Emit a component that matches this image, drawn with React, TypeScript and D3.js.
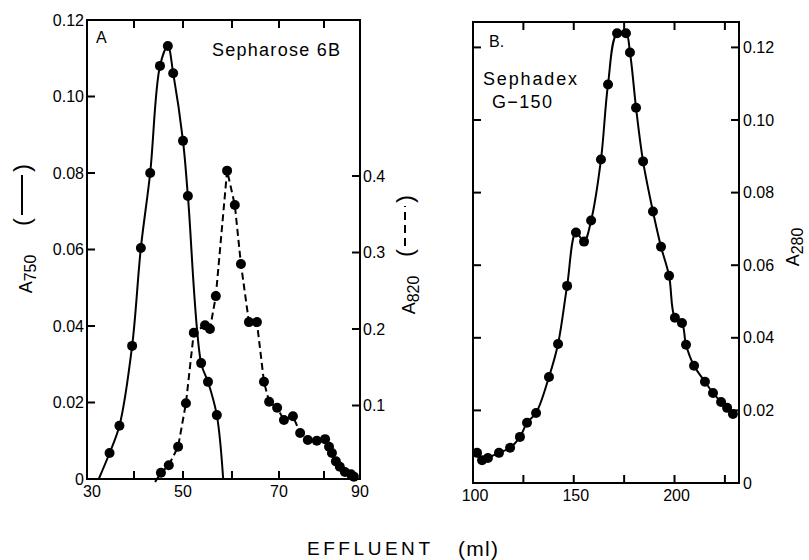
import * as d3 from "d3";

const FONT = "'Liberation Sans', Arial, sans-serif";

// --- Panel A: Sepharose 6B ---
// A750 (solid curve, left axis)
const a750Ml = [34.8, 36.9, 39.6, 41.4, 43.3, 45.3, 46.9, 48.0, 50.0, 51.0, 53.7, 55.1, 56.9];
const a750 = [0.0068, 0.0139, 0.0348, 0.0604, 0.08, 0.108, 0.1132, 0.1061, 0.0884, 0.074, 0.0303, 0.0254, 0.0167];
const a750CurveEnds = [32.5, 58.2]; // where the drawn curve meets the baseline

// A820 (dashed curve, right axis)
const a820Ml = [
  45.5, 47.1, 49.0, 50.6, 52.2, 54.5, 55.5, 56.7, 59.0, 60.6, 61.9, 63.6, 65.3, 66.8, 67.9,
  69.6, 71.1, 73.1, 74.7, 76.4, 78.4, 80.3, 81.4, 82.2, 83.3, 84.4, 85.8, 87.5, 88.3,
];
const a820 = [
  0.012, 0.022, 0.046, 0.103, 0.195, 0.205, 0.2, 0.243, 0.407, 0.362, 0.285, 0.209, 0.209, 0.131, 0.105,
  0.097, 0.081, 0.086, 0.064, 0.055, 0.054, 0.056, 0.046, 0.038, 0.027, 0.02, 0.013, 0.01, 0.007,
];
const a820CurveStart = 44.3;

// --- Panel B: Sephadex G-150, A280 ---
const a280Ml = [
  102.0, 104.5, 107.4, 112.9, 118.4, 123.3, 126.8, 131.3, 137.7, 142.2, 146.7, 151.1, 155.1, 158.6,
  163.5, 167.0, 171.5, 175.9, 177.9, 180.9, 184.4, 189.3, 193.3, 197.3, 200.2, 203.7, 205.7, 209.7,
  215.1, 219.1, 223.1, 226.1, 229.0,
];
const a280 = [
  0.0083, 0.0063, 0.0069, 0.0083, 0.0097, 0.0127, 0.0166, 0.0193, 0.0292, 0.0383, 0.0543, 0.069, 0.0665,
  0.0723, 0.0891, 0.1098, 0.1239, 0.1239, 0.1186, 0.1034, 0.0886, 0.0748, 0.0651, 0.0571, 0.0455, 0.0441,
  0.0381, 0.0323, 0.0279, 0.0248, 0.0223, 0.0207, 0.019,
];

// ticks
const xTicksA = [30, 40, 50, 60, 70, 80, 90];
const xLabelsA = [30, 50, 70, 90];
const yTicksA = [0, 0.02, 0.04, 0.06, 0.08, 0.1, 0.12];
const yTicksA820 = [0.1, 0.2, 0.3, 0.4];
const xTicksB = [100, 125, 150, 175, 200, 225];
const xLabelsB = [100, 150, 200];
const yTicksB = [0, 0.02, 0.04, 0.06, 0.08, 0.1, 0.12];

// scales (the printed x axis of panel A is not evenly spaced, so map each tick)
const xA = d3.scaleLinear().domain(xTicksA).range([87, 134, 183, 232, 279, 324, 360]);
const yA = d3.scaleLinear().domain([0, 0.12]).range([479, 20]);
const yA820 = d3.scaleLinear().domain([0, 0.6]).range([482, 23]);
const xB = d3.scaleLinear().domain([100, 232]).range([473, 739]);
const yB = d3.scaleLinear().domain([0, 0.127]).range([483, 22]);

const f2 = (v: number) => (v === 0 ? "0" : d3.format(".2f")(v));
const f1 = d3.format(".1f");

const TICK = 8;

function Bracket({ x, y, dashed }: { x: number; y: number; dashed?: boolean }) {
  return (
    <g transform={`translate(${x},${y}) rotate(-90)`} fontFamily={FONT} fontSize={24}>
      <text x={-27} y={0} textAnchor="middle">(</text>
      <text x={27} y={0} textAnchor="middle">)</text>
      <line x1={-20} x2={20} y1={-8} y2={-8} stroke="#000" strokeWidth={2}
        strokeDasharray={dashed ? "8 5" : undefined} />
    </g>
  );
}

export default function App() {
  const ptsA750: [number, number][] = [
    [a750CurveEnds[0], 0],
    ...a750Ml.map((m, i) => [m, a750[i]] as [number, number]),
    [a750CurveEnds[1], 0],
  ];
  const lineA750 = d3.line<[number, number]>()
    .x((d) => xA(d[0]))
    .y((d) => yA(d[1]))
    .curve(d3.curveCatmullRom.alpha(0.5));

  const ptsA820: [number, number][] = [
    [a820CurveStart, 0],
    ...a820Ml.map((m, i) => [m, a820[i]] as [number, number]),
  ];
  const lineA820 = d3.line<[number, number]>()
    .x((d) => xA(d[0]))
    .y((d) => yA820(d[1]));

  const ptsB: [number, number][] = a280Ml.map((m, i) => [m, a280[i]]);
  const lineB = d3.line<[number, number]>()
    .x((d) => xB(d[0]))
    .y((d) => yB(d[1]))
    .curve(d3.curveCatmullRom.alpha(0.5));

  const aL = xA(30), aR = xA(90), aT = yA(0.12), aB = yA(0);
  const bL = xB(100), bR = xB(232), bT = yB(0.127), bB = yB(0);

  return (
    <svg width={809} height={560} style={{ position: "absolute", left: 0, top: 0, background: "#fff" }}
      fontFamily={FONT}>
      {/* ---------- Panel A ---------- */}
      <rect x={aL} y={aT} width={aR - aL} height={aB - aT} fill="none" stroke="#000" strokeWidth={2} />
      {xTicksA.slice(1, -1).map((t) => (
        <g key={"xa" + t}>
          <line x1={xA(t)} x2={xA(t)} y1={aB} y2={aB - TICK} stroke="#000" strokeWidth={2} />
          <line x1={xA(t)} x2={xA(t)} y1={aT} y2={aT + TICK} stroke="#000" strokeWidth={2} />
        </g>
      ))}
      {xLabelsA.map((t) => (
        <text key={"xla" + t} x={xA(t) + (t === 30 ? 5 : 0)} y={aB + 18} fontSize={16} textAnchor="middle">
          {t}
        </text>
      ))}
      {yTicksA.map((v) => (
        <g key={"ya" + v}>
          {v > 0 && v < 0.12 && (
            <line x1={aL} x2={aL + TICK} y1={yA(v)} y2={yA(v)} stroke="#000" strokeWidth={2} />
          )}
          <text x={aL - 3} y={yA(v)} dy="0.35em" fontSize={16} textAnchor="end">{f2(v)}</text>
        </g>
      ))}
      {yTicksA820.map((v) => (
        <g key={"yr" + v}>
          <line x1={aR} x2={aR - TICK} y1={yA820(v)} y2={yA820(v)} stroke="#000" strokeWidth={2} />
          <text x={aR + 3} y={yA820(v)} dy="0.35em" fontSize={16}>{f1(v)}</text>
        </g>
      ))}

      <path d={lineA750(ptsA750) ?? ""} fill="none" stroke="#000" strokeWidth={2} />
      <path d={lineA820(ptsA820) ?? ""} fill="none" stroke="#000" strokeWidth={2} strokeDasharray="7 4" />
      {ptsA750.slice(1, -1).map((d, i) => (
        <circle key={"pa" + i} cx={xA(d[0])} cy={yA(d[1])} r={5} fill="#000" />
      ))}
      {ptsA820.slice(1).map((d, i) => (
        <circle key={"pd" + i} cx={xA(d[0])} cy={yA820(d[1])} r={5} fill="#000" />
      ))}

      <text x={96} y={43} fontSize={16}>A</text>
      <text x={212} y={56} fontSize={18} textLength={128} lengthAdjust="spacing">Sepharose 6B</text>

      {/* left axis title A750 with solid-line key */}
      <g transform="translate(32,274) rotate(-90)">
        <text textAnchor="middle" fontSize={18}>
          A<tspan fontSize={16} dy={4}>750</tspan>
        </text>
      </g>
      <Bracket x={30} y={195} />

      {/* right axis title A820 with dashed-line key */}
      <g transform="translate(415,295) rotate(-90)">
        <text textAnchor="middle" fontSize={18}>
          A<tspan fontSize={16} dy={4}>820</tspan>
        </text>
      </g>
      <Bracket x={413} y={226} dashed />

      {/* ---------- Panel B ---------- */}
      <rect x={bL} y={bT} width={bR - bL} height={bB - bT} fill="none" stroke="#000" strokeWidth={2} />
      {xTicksB.slice(1).map((t) => (
        <g key={"xb" + t}>
          <line x1={xB(t)} x2={xB(t)} y1={bB} y2={bB - TICK} stroke="#000" strokeWidth={2} />
          <line x1={xB(t)} x2={xB(t)} y1={bT} y2={bT + TICK} stroke="#000" strokeWidth={2} />
        </g>
      ))}
      {xLabelsB.map((t) => (
        <text key={"xlb" + t} x={xB(t) + 2} y={bB + 18} fontSize={16} textAnchor="middle">{t}</text>
      ))}
      {yTicksB.map((v) => (
        <g key={"yb" + v}>
          {v > 0 && (
            <>
              <line x1={bL} x2={bL + TICK} y1={yB(v)} y2={yB(v)} stroke="#000" strokeWidth={2} />
              <line x1={bR} x2={bR - TICK} y1={yB(v)} y2={yB(v)} stroke="#000" strokeWidth={2} />
            </>
          )}
          <text x={bR + 4} y={yB(v)} dy="0.35em" fontSize={16}>{f2(v)}</text>
        </g>
      ))}

      <path d={lineB(ptsB) ?? ""} fill="none" stroke="#000" strokeWidth={2} />
      {ptsB.map((d, i) => (
        <circle key={"pb" + i} cx={xB(d[0])} cy={yB(d[1])} r={5} fill="#000" />
      ))}

      <text x={489} y={47} fontSize={16}>B.</text>
      <text x={483} y={85} fontSize={18} textLength={94} lengthAdjust="spacing">Sephadex</text>
      <text x={492} y={108} fontSize={18} textLength={60} lengthAdjust="spacing">G−150</text>

      <g transform="translate(799,247) rotate(-90)">
        <text textAnchor="middle" fontSize={18}>
          A<tspan fontSize={16} dy={4}>280</tspan>
        </text>
      </g>

      {/* shared x title */}
      <text x={307} y={555} fontSize={19} textLength={123} lengthAdjust="spacing">EFFLUENT</text>
      <text x={458} y={556} fontSize={21} textLength={40} lengthAdjust="spacing">(ml)</text>
    </svg>
  );
}
